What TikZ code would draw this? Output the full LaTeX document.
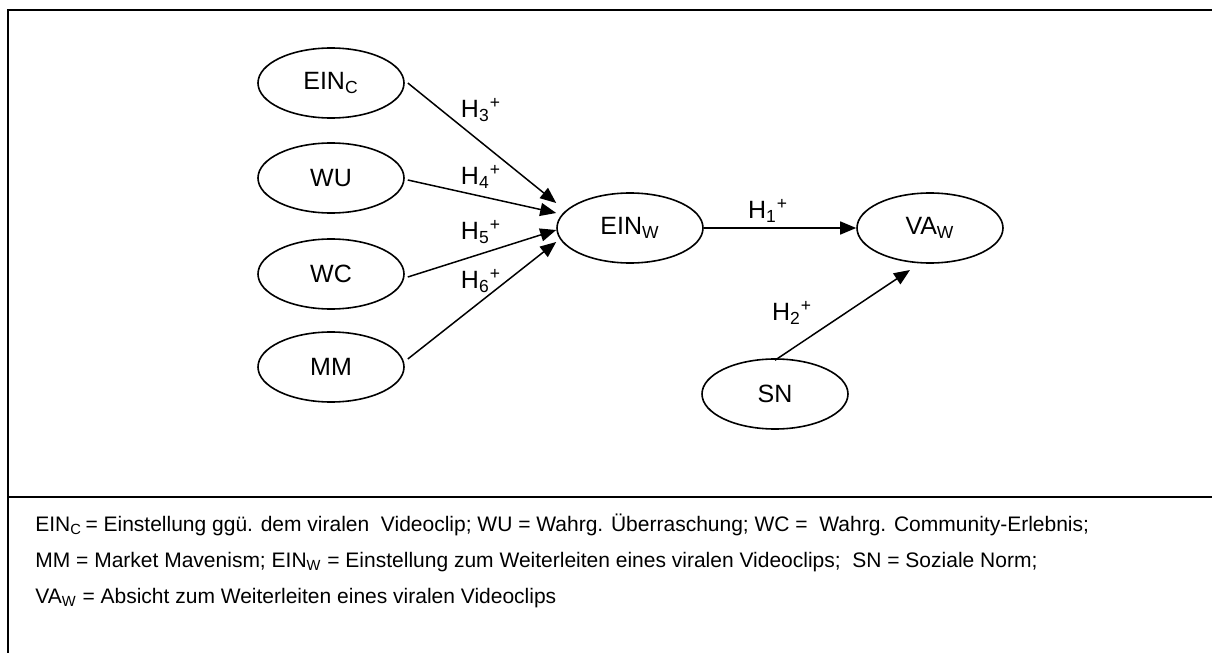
\documentclass[tikz,border=0pt]{standalone}
\usepackage{fontspec}
\setmainfont{Liberation Sans}
\usetikzlibrary{arrows.meta,shapes.geometric}
\begin{document}
\begin{tikzpicture}[x=0.5pt,y=-0.5pt,
  construct/.style={ellipse,draw,line width=0.8pt,minimum width=73pt,minimum height=35pt,
    inner sep=0pt,font=\fontsize{12.5}{15}\selectfont},
  path/.style={line width=0.75pt,-{Triangle[length=8pt,width=6.5pt]}},
  hyp/.style={font=\fontsize{12.5}{15}\selectfont,inner sep=0pt},
  legend/.style={anchor=base west,inner sep=0pt,font=\fontsize{10.5}{12}\selectfont},
  frame/.style={line width=1.1pt}]
\useasboundingbox (0,0) rectangle (1212,653);

% frame and separator of the legend
\draw[frame] (8,653) -- (8,10) -- (1212,10);
\draw[frame] (8,497) -- (1212,497);

% constructs
\node[construct] (einc) at (331,83) {EIN\textsubscript{C}};
\node[construct] (wu)   at (331,178) {WU};
\node[construct] (wc)   at (331,274) {WC};
\node[construct] (mm)   at (331,367) {MM};
\node[construct] (einw) at (630,228) {EIN\textsubscript{W}};
\node[construct] (vaw)  at (930,228) {VA\textsubscript{W}};
\node[construct] (sn)   at (775,394) {SN};

% hypothesised paths
\draw[path] ([xshift=1.5pt]einc.east) -- ([yshift=12.5pt]einw.west);
\draw[path] ([xshift=1.5pt,yshift=-1pt]wu.east) -- ([yshift=7.5pt]einw.west);
\draw[path] ([xshift=1.5pt,yshift=-1.5pt]wc.east) -- ([yshift=-1pt]einw.west);
\draw[path] ([xshift=1.5pt,yshift=4pt]mm.east) -- ([yshift=-7pt]einw.west);
\draw[path] (einw.east) -- (vaw.west);
\coordinate (snin) at (910,270);
\draw[path] ([yshift=-1pt]sn.north) -- (snin);

% hypothesis labels
\node[hyp] (h3) at (481,110) {H\textsubscript{3}\textsuperscript{+}};
\node[hyp] (h4) at (481,177) {H\textsubscript{4}\textsuperscript{+}};
\node[hyp] (h5) at (481,232) {H\textsubscript{5}\textsuperscript{+}};
\node[hyp] (h6) at (481,281) {H\textsubscript{6}\textsuperscript{+}};
\node[hyp] (h1) at (768,211) {H\textsubscript{1}\textsuperscript{+}};
\node[hyp] (h2) at (792,313) {H\textsubscript{2}\textsuperscript{+}};

% legend
\node[legend] (l1) at (35,531) {EIN\textsubscript{C}\,= Einstellung ggü. dem viralen\ \ Videoclip; WU = Wahrg. Überraschung; WC =\ \ Wahrg. Community-Erlebnis;};
\node[legend] (l2) at (35,567) {MM = Market Mavenism; EIN\textsubscript{W} = Einstellung zum Weiterleiten eines viralen Videoclips;\ \ SN = Soziale Norm;};
\node[legend] (l3) at (35,603) {VA\textsubscript{W} = Absicht zum Weiterleiten eines viralen Videoclips};
\end{tikzpicture}
\end{document}
